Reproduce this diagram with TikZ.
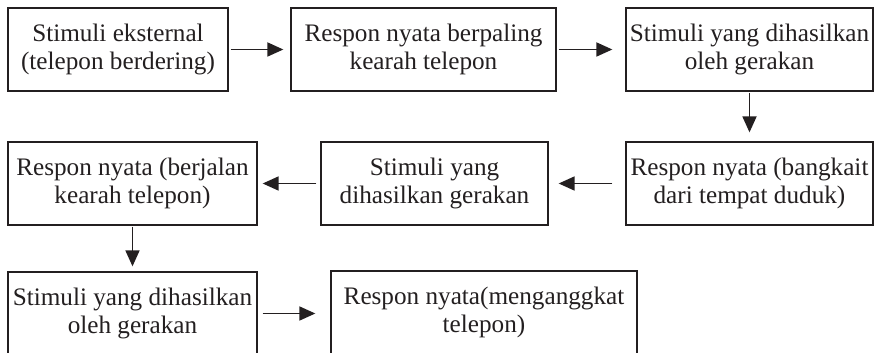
\documentclass[tikz,border=0pt]{standalone}
\usepackage{fontspec}
\setmainfont{Liberation Serif}
\usetikzlibrary{arrows.meta}
\definecolor{ink}{HTML}{231F20}
\begin{document}
\begin{tikzpicture}[x=1pt,y=1pt,
  box/.style={draw=ink,line width=1.3pt,minimum height=83pt,inner sep=0pt,align=center,
    text=ink,font=\fontsize{25.2}{28}\selectfont},
  arr/.style={draw=ink,line width=1.8pt,-{Triangle[length=16pt,width=14pt]}}]
\useasboundingbox (0,0) rectangle (875,353);
\clip (0,0) rectangle (875,353);
\node[box,minimum width=220pt] (b1) at (118,303.5) {Stimuli eksternal\\(telepon berdering)};
\node[box,minimum width=265pt] (b2) at (423.5,303.5) {Respon nyata berpaling\\kearah telepon};
\node[box,minimum width=247pt] (b3) at (749.5,303.5) {Stimuli yang dihasilkan\\oleh gerakan};
\node[box,minimum width=247pt] (b4) at (749.5,169.5) {Respon nyata (bangkait\\dari tempat duduk)};
\node[box,minimum width=227pt] (b5) at (434.5,169.5) {Stimuli yang\\dihasilkan gerakan};
\node[box,minimum width=249pt] (b6) at (132.5,169.5) {Respon nyata (berjalan\\kearah telepon)};
\node[box,minimum width=249pt] (b7) at (132.5,39.5) {Stimuli yang dihasilkan\\oleh gerakan};
\node[box,minimum width=306pt] (b8) at (484,40.5) {Respon nyata(menganggkat\\telepon)};
\draw[arr,shorten <=2pt,shorten >=7pt] (b1) -- (b2);
\draw[arr,shorten <=2pt,shorten >=13pt] (b2) -- (b3);
\draw[arr,shorten <=1pt,shorten >=9pt] (b3) -- (b4);
\draw[arr,shorten <=13pt,shorten >=10pt] (b4) -- (b5);
\draw[arr,shorten <=4pt,shorten >=5pt] (b5) -- (b6);
\draw[arr,shorten <=1pt,shorten >=5pt] (b6) -- (b7);
\draw[arr,shorten <=5pt,shorten >=15pt] (b7.east) -- (b8.west |- b7.east);
\end{tikzpicture}
\end{document}
